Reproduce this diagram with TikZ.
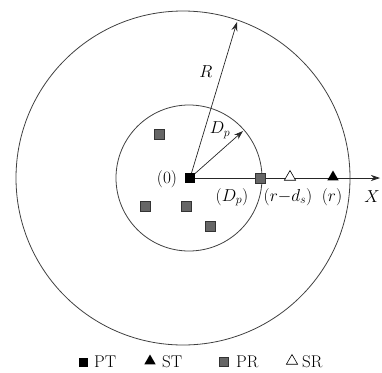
\documentclass[tikz,border=0pt]{standalone}
\usetikzlibrary{arrows.meta,shapes.geometric,backgrounds}
\begin{document}
\begin{tikzpicture}[x=1pt,y=-1pt,
  every node/.style={font=\fontsize{17}{20}\selectfont},
  ring/.style={circle,draw=black!75,line width=0.8pt,inner sep=0pt},
  ptbox/.style={rectangle,fill=black,minimum size=10pt,inner sep=0pt},
  prbox/.style={rectangle,fill=black!60,draw=black!80,line width=0.5pt,minimum size=9.5pt,inner sep=0pt},
  sttri/.style={regular polygon,regular polygon sides=3,fill=black,minimum size=13pt,inner sep=0pt},
  srtri/.style={regular polygon,regular polygon sides=3,fill=white,draw=black,line width=0.6pt,minimum size=13pt,inner sep=0pt},
  lgpt/.style={rectangle,fill=black,minimum size=9pt,inner sep=0pt},
  lgpr/.style={rectangle,fill=black!60,draw=black!80,line width=0.5pt,minimum size=9pt,inner sep=0pt},
  lgst/.style={regular polygon,regular polygon sides=3,fill=black,minimum size=13pt,inner sep=0pt},
  lgsr/.style={regular polygon,regular polygon sides=3,fill=white,draw=black,line width=0.6pt,minimum size=13pt,inner sep=0pt},
  conn/.style={draw=black!85,line width=0.7pt,-{Stealth[length=9pt,width=6pt]}}
]
\useasboundingbox (0,0) rectangle (382,372);
% circles
\node[ring,minimum size=334pt] (big) at (183,178) {};
\node[ring,minimum size=146pt] (small) at (189,178) {};
% transmitters / receivers
\node[ptbox] (pt) at (190,178) {};
\node[prbox] (pr0) at (260,178) {};
\node[srtri] (sr) at (290,177) {};
\node[sttri] (st) at (333,177) {};
\node[prbox] (pr1) at (159,134) {};
\node[prbox] (pr2) at (145,206) {};
\node[prbox] (pr3) at (186,206) {};
\node[prbox] (pr4) at (210,226) {};
% end points
\coordinate (xend) at (380,178);
\coordinate (rend) at (237,22);
\coordinate (dend) at (243,131);
\begin{pgfonlayer}{background}
\draw[conn] (pt.center) -- (xend);
\draw[conn] (pt.center) -- (rend);
\draw[conn] (pt.center) -- (dend);
\end{pgfonlayer}
% labels
\node (lR) at (206,72) {$R$};
\node (lDp) at (220,130) {$D_p$};
\node (l0) at (167,179) {$(0)$};
\node (lDp2) at (232,197) {$(D_p)$};
\node (lrd) at (288,197) {$(r{-}d_s)$};
\node (lr) at (332,197) {$(r)$};
\node (lX) at (372,197) {$X$};
% legend
\node[lgpt] (k1) at (83,362) {};
\node[anchor=west,inner sep=0pt] (t1) at (94,362) {PT};
\node[lgst] (k2) at (150,361) {};
\node[anchor=west,inner sep=0pt] (t2) at (162,362) {ST};
\node[lgpr] (k3) at (224,362) {};
\node[anchor=west,inner sep=0pt] (t3) at (236,362) {PR};
\node[lgsr] (k4) at (292,361) {};
\node[anchor=west,inner sep=0pt] (t4) at (302,362) {SR};
\end{tikzpicture}
\end{document}
